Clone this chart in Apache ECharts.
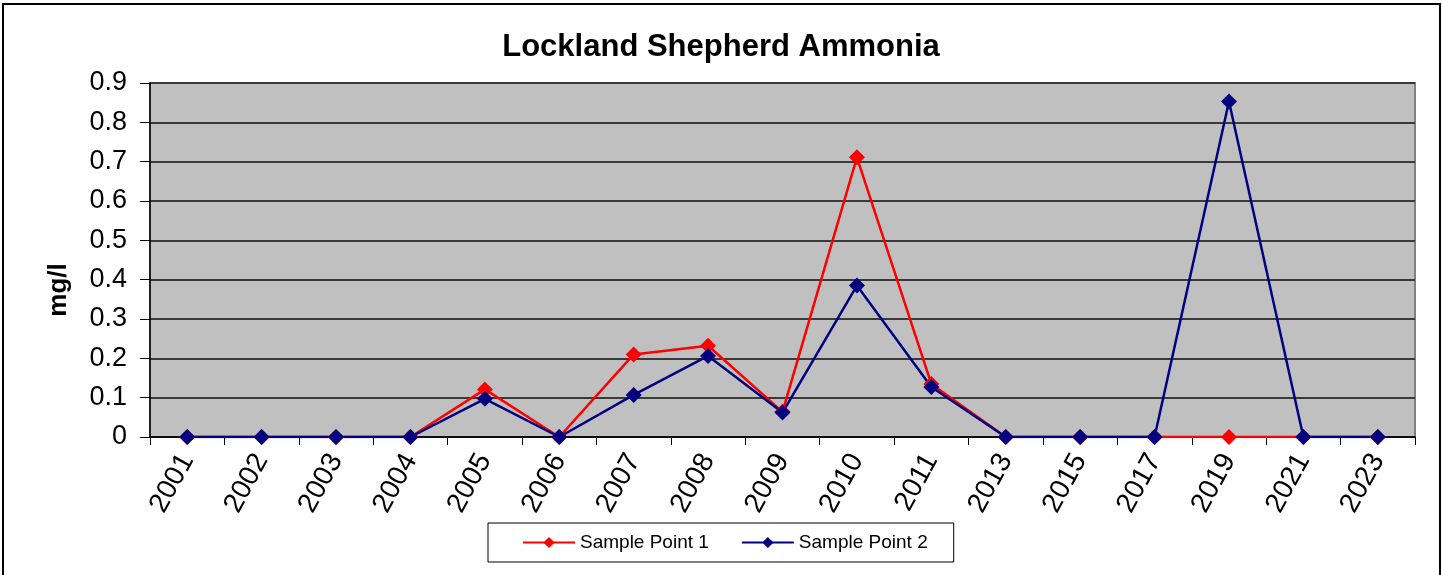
<!DOCTYPE html>
<html>
<head>
<meta charset="utf-8">
<script src="https://cdn.jsdelivr.net/npm/echarts@6/dist/echarts.min.js"></script>
<style>
html,body{margin:0;padding:0;background:#fff;}
#chart{width:1442px;height:575px;}
</style>
</head>
<body>
<div id="chart"></div>
<script>
const categories = ['2001','2002','2003','2004','2005','2006','2007','2008','2009','2010','2011','2013','2015','2017','2019','2021','2023'];
const samplePoint1 = [0,0,0,0,0.121,0,0.21,0.232,0.064,0.711,0.135,0,0,0,0,0,0];
const samplePoint2 = [0,0,0,0,0.097,0,0.107,0.206,0.062,0.385,0.127,0,0,0,0.853,0,0];
const yTicks = {min:0, max:0.9, interval:0.1};
const titleText = 'Lockland Shepherd Ammonia';
const yName = 'mg/l';

const FONT = '"Liberation Sans", Arial, sans-serif';
const chart = echarts.init(document.getElementById('chart'));
chart.setOption({
  animation:false,
  backgroundColor:'#ffffff',
  graphic:[{
    type:'rect', z:-10, silent:true,
    shape:{x:3,y:4,width:1437,height:620},
    style:{fill:'none',stroke:'#000',lineWidth:2}
  }],
  title:{
    text:titleText, left:'center', top:27,
    textStyle:{fontFamily:FONT,fontSize:31,fontWeight:'bold',color:'#000'}
  },
  legend:{
    left:488, top:523,
    padding:[10,26,10,34],
    itemGap:32, itemWidth:52, itemHeight:14,
    borderColor:'#000', borderWidth:1,
    textStyle:{fontFamily:FONT,fontSize:19,color:'#000'},
    data:['Sample Point 1','Sample Point 2']
  },
  grid:{left:150,right:27,top:83,bottom:138,show:true,backgroundColor:'#c0c0c0',borderColor:'#808080',borderWidth:2},
  xAxis:{
    type:'category', data:categories, boundaryGap:true,
    axisLine:{lineStyle:{color:'#000',width:1.5}},
    axisTick:{show:true,alignWithLabel:false,length:8,lineStyle:{color:'#000'}},
    axisLabel:{rotate:61,fontFamily:FONT,fontSize:28,color:'#000',margin:19,interval:0}
  },
  yAxis:{
    type:'value', min:yTicks.min, max:yTicks.max, interval:yTicks.interval,
    name:yName, nameLocation:'middle', nameGap:78, nameRotate:90,
    nameTextStyle:{fontFamily:FONT,fontSize:26,fontWeight:'bold',color:'#000',padding:[0,60,0,0]},
    axisLine:{show:true,lineStyle:{color:'#000',width:1.5}},
    axisTick:{show:true,length:10,lineStyle:{color:'#000'}},
    axisLabel:{fontFamily:FONT,fontSize:27,color:'#000',margin:23,
      formatter:function(v){return v===0?'0':v.toFixed(1);}},
    splitLine:{show:true,lineStyle:{color:'#3a3a3a',width:2}}
  },
  series:[
    {name:'Sample Point 1',type:'line',data:samplePoint1,
     symbol:'diamond',symbolSize:16,
     lineStyle:{color:'#ff0000',width:2.5},
     itemStyle:{color:'#ff0000'}},
    {name:'Sample Point 2',type:'line',data:samplePoint2,
     symbol:'diamond',symbolSize:16,
     lineStyle:{color:'#000080',width:2.5},
     itemStyle:{color:'#000080'}}
  ]
});
</script>
</body>
</html>
